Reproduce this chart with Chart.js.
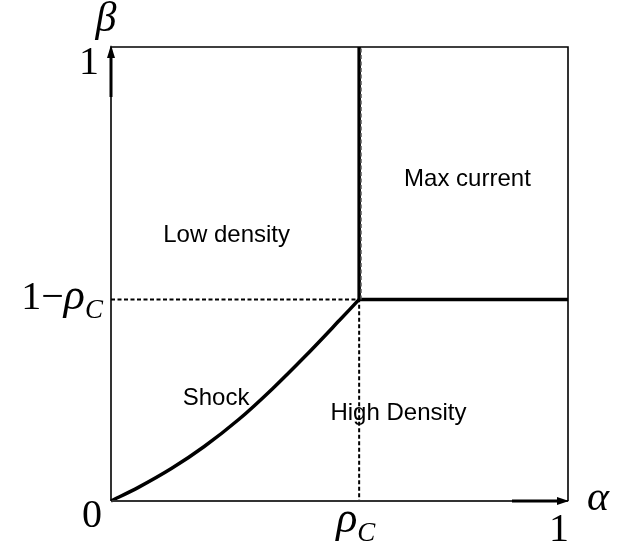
<!DOCTYPE html>
<html>
<head>
<meta charset="utf-8">
<script src="https://cdn.jsdelivr.net/npm/chart.js@4.4.1/dist/chart.umd.min.js"></script>
<style>
html,body{margin:0;padding:0;background:#fff;}
#wrap{width:641px;height:550px;}
</style>
</head>
<body>
<div id="wrap"><canvas id="c" width="641" height="550"></canvas></div>
<script>
// Critical point (phase boundary)
const alphaC = 0.543;      // rho_c on the alpha axis
const betaC = 0.444;       // 1 - rho_c on the beta axis

// Shock line (low density / high density coexistence) from origin to critical point
const shockX = [0, 0.060, 0.133, 0.204, 0.280, 0.354, 0.427, 0.500, 0.543];
const shockY = [0, 0.030, 0.072, 0.120, 0.180, 0.248, 0.321, 0.398, 0.444];

// Tick labels
const xTickValues = [0, alphaC, 1];
const xTickLabels = ["0", "ρ|C", "1"];
const yTickValues = [betaC, 1];
const yTickLabels = ["1−ρ|C", "1"];
const xAxisTitle = "α";
const yAxisTitle = "β";

// Region labels
const regionNames = ["Low density", "Max current", "Shock", "High Density"];
const regionX = [0.253, 0.780, 0.230, 0.629];
const regionY = [0.570, 0.694, 0.211, 0.178];

const pts = (xs, ys) => xs.map((x, i) => ({x: x, y: ys[i]}));

const overlay = {
  id: 'overlay',
  afterDatasetsDraw(chart) {
    const ctx = chart.ctx;
    const xs = chart.scales.x, ys = chart.scales.y;
    const x0 = xs.getPixelForValue(0), x1 = xs.getPixelForValue(1);
    const y0 = ys.getPixelForValue(0), y1 = ys.getPixelForValue(1);
    ctx.save();
    // arrows
    ctx.fillStyle = '#000'; ctx.strokeStyle = '#000';
    ctx.lineWidth = 3;
    ctx.beginPath(); ctx.moveTo(x0, y1 + 50); ctx.lineTo(x0, y1 + 8); ctx.stroke();
    ctx.beginPath(); ctx.moveTo(x0, y1 - 2); ctx.lineTo(x0 - 4, y1 + 11); ctx.lineTo(x0 + 4, y1 + 11); ctx.closePath(); ctx.fill();
    ctx.beginPath(); ctx.moveTo(x1 - 56, y0); ctx.lineTo(x1 - 8, y0); ctx.stroke();
    ctx.beginPath(); ctx.moveTo(x1 + 1, y0); ctx.lineTo(x1 - 11, y0 - 4); ctx.lineTo(x1 - 11, y0 + 4); ctx.closePath(); ctx.fill();

    const serif = '"Liberation Serif", "DejaVu Serif", serif';
    function mathLabel(txt, x, yBase, align) {
      const parts = txt.split('|');
      const main = parts[0], sub = parts[1] || '';
      const segs = [];
      for (const ch of main) {
        const it = /[α-ω]/.test(ch);
        segs.push({t: ch, font: (it ? 'italic 44px ' : '40px ') + serif, dy: 0});
      }
      if (sub) segs.push({t: sub, font: 'italic 27px ' + serif, dy: 9});
      let w = 0;
      segs.forEach(s => { ctx.font = s.font; s.w = ctx.measureText(s.t).width; w += s.w; });
      let cx = align === 'right' ? x - w : (align === 'center' ? x - w / 2 : x);
      ctx.textAlign = 'left'; ctx.textBaseline = 'alphabetic';
      segs.forEach(s => { ctx.font = s.font; ctx.fillText(s.t, cx, yBase + s.dy); cx += s.w; });
    }
    ctx.fillStyle = '#000';
    yTickValues.forEach((v, i) => {
      const py = ys.getPixelForValue(v);
      if (v === 1) mathLabel(yTickLabels[i], x0 - 12, py + 27, 'right');
      else mathLabel(yTickLabels[i], x0 - 8, py + 10, 'right');
    });
    xTickValues.forEach((v, i) => {
      const px = xs.getPixelForValue(v);
      if (v === 0) mathLabel(xTickLabels[i], px - 9, y0 + 26, 'right');
      else if (v === 1) mathLabel(xTickLabels[i], px + 1, y0 + 40, 'right');
      else mathLabel(xTickLabels[i], px - 23, y0 + 31, 'left');
    });
    ctx.font = 'italic 42px ' + serif;
    ctx.textAlign = 'center'; ctx.textBaseline = 'alphabetic';
    ctx.fillText(yAxisTitle, x0 - 5, y1 - 16);
    ctx.textAlign = 'left';
    ctx.fillText(xAxisTitle, x1 + 19, y0 + 9);

    ctx.font = '24px "Liberation Sans", Arial, sans-serif';
    ctx.textAlign = 'center';
    regionNames.forEach((n, i) => {
      ctx.fillText(n, xs.getPixelForValue(regionX[i]), ys.getPixelForValue(regionY[i]));
    });
    ctx.restore();
  }
};

new Chart(document.getElementById('c'), {
  type: 'scatter',
  data: {
    datasets: [
      { data: pts([0, 0, 1, 1], [0, 1, 1, 0]),
        showLine: true, borderColor: '#000', borderWidth: 1.6, pointRadius: 0, fill: false },
      { data: pts([0, 1], [0, 0]),
        showLine: true, borderColor: '#333', borderWidth: 2.2, pointRadius: 0 },
      { data: pts([0, alphaC, alphaC], [betaC, betaC, 0]),
        showLine: true, borderColor: '#000', borderWidth: 2, borderDash: [4, 2.5], pointRadius: 0 },
      { data: pts([alphaC + 0.004, alphaC + 0.004], [betaC, 1]),
        showLine: true, borderColor: '#555', borderWidth: 1.5, borderDash: [4, 2.5], pointRadius: 0 },
      { data: pts([alphaC, alphaC, 1], [1, betaC, betaC]),
        showLine: true, borderColor: '#000', borderWidth: 3.5, pointRadius: 0, borderJoinStyle: 'miter' },
      { data: pts(shockX, shockY),
        showLine: true, borderColor: '#000', borderWidth: 3.5, pointRadius: 0, tension: 0.3 }
    ]
  },
  options: {
    responsive: false,
    animation: false,
    layout: { padding: { left: 111, right: 73, top: 47, bottom: 49 } },
    plugins: { legend: { display: false }, tooltip: { enabled: false } },
    scales: {
      x: { type: 'linear', min: 0, max: 1, display: false },
      y: { type: 'linear', min: 0, max: 1, display: false }
    },
    clip: false
  },
  plugins: [overlay]
});
</script>
</body>
</html>
